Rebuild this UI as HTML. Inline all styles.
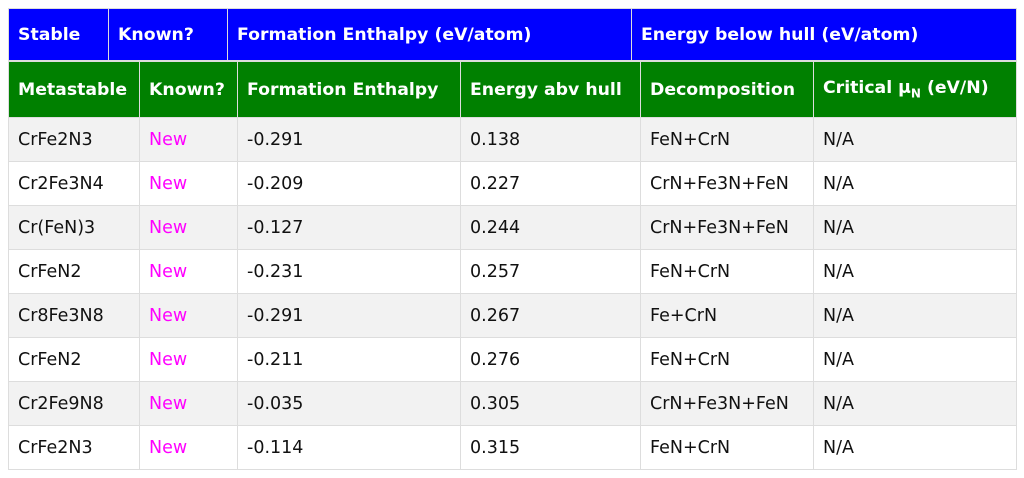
<!DOCTYPE html>
<html><head><meta charset="utf-8"><style>
body{margin:0;background:#fff;font-family:"DejaVu Sans","Liberation Sans",sans-serif;}
table{position:absolute;left:8px;top:8px;border-collapse:collapse;table-layout:fixed;}
td,th{border:1px solid #ddd;padding:0 0 0 9px;text-align:left;white-space:nowrap;font-size:17.5px;color:#111;}
#t1 th{background:#0000ff;color:#fff;height:51px;font-weight:bold;font-size:17.3px;border-color:#ddd;}
#t2{top:61px;}
#t2 th{background:#008000;color:#fff;height:55px;font-weight:bold;font-size:17.3px;}
#t2 td{height:43px;}
#t2 tr:nth-child(even) td{background:#f2f2f2;}
.new{color:#ff00ff;}
sub{font-size:12px;}
</style></head><body>
<table id="t1" style="width:1008px">
<colgroup><col style="width:100px"><col style="width:119px"><col style="width:404px"><col style="width:385px"></colgroup>
<tr>
<th>Stable</th>
<th>Known?</th>
<th>Formation Enthalpy (eV/atom)</th>
<th>Energy below hull (eV/atom)</th>
</tr></table>
<table id="t2" style="width:1008px">
<colgroup><col style="width:131px"><col style="width:98px"><col style="width:223px"><col style="width:180px"><col style="width:173px"><col style="width:203px"></colgroup>
<tr>
<th>Metastable</th>
<th>Known?</th>
<th>Formation Enthalpy</th>
<th>Energy abv hull</th>
<th>Decomposition</th>
<th>Critical μ<sub>N</sub> (eV/N)</th>
</tr>
<tr><td>CrFe2N3</td><td class="new">New</td><td>-0.291</td><td>0.138</td><td>FeN+CrN</td><td>N/A</td></tr>
<tr><td>Cr2Fe3N4</td><td class="new">New</td><td>-0.209</td><td>0.227</td><td>CrN+Fe3N+FeN</td><td>N/A</td></tr>
<tr><td>Cr(FeN)3</td><td class="new">New</td><td>-0.127</td><td>0.244</td><td>CrN+Fe3N+FeN</td><td>N/A</td></tr>
<tr><td>CrFeN2</td><td class="new">New</td><td>-0.231</td><td>0.257</td><td>FeN+CrN</td><td>N/A</td></tr>
<tr><td>Cr8Fe3N8</td><td class="new">New</td><td>-0.291</td><td>0.267</td><td>Fe+CrN</td><td>N/A</td></tr>
<tr><td>CrFeN2</td><td class="new">New</td><td>-0.211</td><td>0.276</td><td>FeN+CrN</td><td>N/A</td></tr>
<tr><td>Cr2Fe9N8</td><td class="new">New</td><td>-0.035</td><td>0.305</td><td>CrN+Fe3N+FeN</td><td>N/A</td></tr>
<tr><td>CrFe2N3</td><td class="new">New</td><td>-0.114</td><td>0.315</td><td>FeN+CrN</td><td>N/A</td></tr>
</table>
</body></html>
